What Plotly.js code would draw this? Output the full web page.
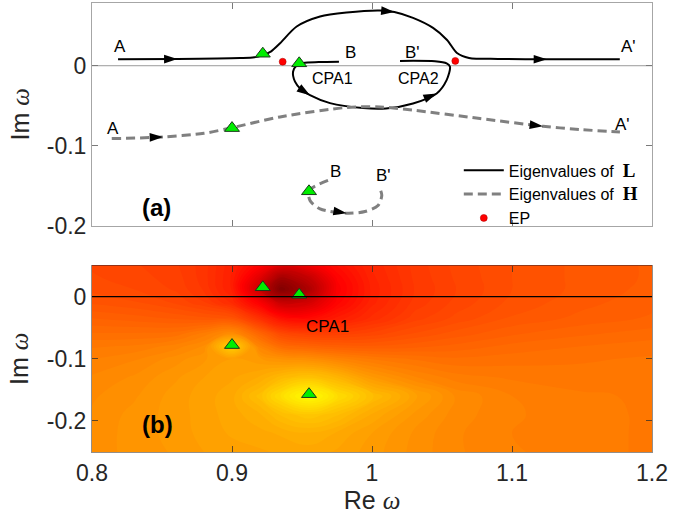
<!DOCTYPE html>
<html><head><meta charset="utf-8">
<script src="https://cdn.plot.ly/plotly-3.0.1.min.js"></script>
<style>html,body{margin:0;padding:0;background:#fff}#chart{width:697px;height:515px}</style>
</head><body><div id="chart"></div>
<script>
// ---------- data ----------
// Eigenvalues of L : branch A -> A'
const lX = [0.8186,0.861,0.9057,0.916,0.9221,0.928,0.9343,0.9462,0.9629,0.9819,1.0057,1.016,1.0293,1.0436,1.0536,1.0607,1.0693,1.09,1.125,1.177];
const lY = [0.0080,0.0083,0.0095,0.0105,0.0134,0.0180,0.028,0.049,0.0615,0.0665,0.0690,0.0672,0.0598,0.0473,0.0322,0.0159,0.0097,0.0085,0.0080,0.0080];
const lArrows = [1, 11, 18];
// Eigenvalues of L : branch B -> CPA1 -> CPA2 -> B'
const lLoopX = [0.9764,0.962,0.951,0.946,0.9436,0.945,0.949,0.9557,0.970,0.9936,1.010,1.0293,1.0462,1.0533,1.0557,1.0533,1.045,1.020];
const lLoopY = [0.0050,0.0045,0.0035,0.0000,-0.0075,-0.0200,-0.0290,-0.0368,-0.0468,-0.0530,-0.0535,-0.0472,-0.0347,-0.0180,-0.0013,0.0030,0.0055,0.0060];
const lLoopArrows = [7, 12];
// Eigenvalues of H : branch A -> A'
const hX = [0.8141,0.8507,0.880,0.900,0.9343,0.9819,1.0057,1.0293,1.0771,1.1221,1.1486,1.1771];
const hY = [-0.0911,-0.0891,-0.0845,-0.0775,-0.0640,-0.0522,-0.0515,-0.0556,-0.0660,-0.0757,-0.0798,-0.0828];
const hArrows = [1, 9];
// Eigenvalues of H : branch B -> B'
const hLoopX = [0.9686,0.955,0.9557,0.9629,0.9819,0.995,1.0043,1.007,1.0055];
const hLoopY = [-0.1434,-0.1560,-0.1684,-0.1789,-0.1844,-0.1823,-0.1748,-0.1620,-0.1530];
const hLoopArrows = [4];
// Exceptional points
const epX = [0.9362, 1.0595];
const epY = [0.005, 0.006];
// Green triangles (poles / zeros)
const triX = [0.922, 0.948, 0.9, 0.955];
const triY = [0.015, 0.003, -0.078, -0.157];
// Panel (b) colour field (level; <0 = dark red, 255 = yellow)
const fieldX = [0.8,0.83,0.86,0.88,0.9,0.92,0.935,0.955,0.975,1.0,1.03,1.06,1.1,1.15,1.2];
const fieldY = [0.05,0.03,0.012,-0.01,-0.035,-0.06,-0.08,-0.1,-0.13,-0.16,-0.19,-0.22,-0.25];
const fieldZ = [
 [70,66,60,50,30,0,-30,-15,12,36,55,67,77,85,90],
 [72,68,62,50,28,-30,-85,-55,0,33,54,66,77,85,90],
 [75,71,64,52,28,-50,-115,-75,-5,31,53,65,77,85,91],
 [82,78,70,60,40,-5,-50,-40,2,33,55,67,79,87,93],
 [95,92,88,85,82,45,15,8,25,43,62,73,84,91,96],
 [108,108,110,122,138,100,72,62,62,68,78,86,94,100,104],
 [118,120,128,138,205,128,105,97,92,90,93,97,103,107,110],
 [125,130,140,148,155,150,142,138,128,118,112,108,110,112,114],
 [132,138,148,155,160,168,182,192,178,150,132,122,118,116,116],
 [136,142,152,158,165,188,218,248,218,186,158,136,125,120,118],
 [138,145,152,158,164,172,186,196,186,166,148,134,126,121,118],
 [140,145,152,157,162,165,168,172,166,155,142,132,125,121,118],
 [140,145,150,155,158,160,162,164,160,152,141,132,126,121,118]
];
// Axis ticks
const xTicks = [0.8, 0.9, 1.0, 1.1, 1.2];
const xTickText = ['0.8', '0.9', '1', '1.1', '1.2'];
const yTicks = [-0.2, -0.1, 0];
const yTickText = ['-0.2', '-0.1', '0'];

// ---------- styling ----------
const FONT = 'Liberation Sans, Arial, Helvetica, sans-serif';
const SERIF = 'Liberation Serif, Times New Roman, serif';
const TICKCOL = '#262626';

function arrowTrace(X, Y, idx, xa, ya) {
  const ax = [], ay = [], op = [];
  idx.forEach(i => { ax.push(X[i-1], X[i]); ay.push(Y[i-1], Y[i]); op.push(0, 1); });
  return {x: ax, y: ay, xaxis: xa, yaxis: ya, mode: 'markers', showlegend: false, hoverinfo: 'skip',
    marker: {symbol: 'arrow', size: 14, color: '#000', opacity: op, angleref: 'previous', line: {width: 0}}};
}

const traces = [
  {x: lX, y: lY, mode: 'lines', line: {color: '#000', width: 2, shape: 'spline', smoothing: 0.8},
   name: 'Eigenvalues of\u00a0\u00a0<span style="font-family:' + SERIF + ';font-size:19px"><b>L</b></span>',
   legendgroup: 'L', showlegend: true},
  {x: lLoopX, y: lLoopY, mode: 'lines', line: {color: '#000', width: 2, shape: 'spline', smoothing: 0.8},
   legendgroup: 'L', showlegend: false},
  {x: hX, y: hY, mode: 'lines', line: {color: '#808080', width: 3, dash: '9px,5px', shape: 'spline', smoothing: 0.8},
   name: 'Eigenvalues of\u00a0\u00a0<span style="font-family:' + SERIF + ';font-size:19px"><b>H</b></span>',
   legendgroup: 'H', showlegend: true},
  {x: hLoopX, y: hLoopY, mode: 'lines', line: {color: '#808080', width: 3, dash: '9px,5px', shape: 'spline', smoothing: 0.8},
   legendgroup: 'H', showlegend: false},
  arrowTrace(lX, lY, lArrows, 'x', 'y'),
  arrowTrace(lLoopX, lLoopY, lLoopArrows, 'x', 'y'),
  arrowTrace(hX, hY, hArrows, 'x', 'y'),
  arrowTrace(hLoopX, hLoopY, hLoopArrows, 'x', 'y'),
  {x: triX, y: triY, mode: 'markers', showlegend: false,
   marker: {symbol: 'triangle-up', size: 13, color: '#00ee00', line: {color: '#1a3a1a', width: 1}}},
  {x: epX, y: epY, mode: 'markers', name: 'EP', showlegend: true,
   marker: {symbol: 'circle', size: 7, color: '#ff0000', line: {color: '#aa0000', width: 0.5}}},
  // panel (b)
  {type: 'contour', x: fieldX, y: fieldY, z: fieldZ, xaxis: 'x2', yaxis: 'y2', showscale: false,
   zmin: -115, zmax: 255, hoverinfo: 'skip',
   colorscale: [[0, 'rgb(130,0,0)'], [115/370, 'rgb(255,0,0)'], [1, 'rgb(255,255,0)']],
   contours: {coloring: 'fill', start: -115, end: 255, size: 6},
   line: {width: 0, smoothing: 1.3}},
  {x: triX, y: triY, xaxis: 'x2', yaxis: 'y2', mode: 'markers', showlegend: false,
   marker: {symbol: 'triangle-up', size: 13, color: '#00ee00', line: {color: '#1a3a1a', width: 1}}}
];

const axCommon = {ticks: 'inside', ticklen: 6, tickwidth: 1, showgrid: false, zeroline: false,
  showline: true, mirror: 'ticks', tickfont: {family: FONT, size: 23, color: TICKCOL}};

function label(text, x, y, xr, yr, size, bold) {
  return {text: bold ? '<b>' + text + '</b>' : text, x: x, y: y, xref: xr, yref: yr, showarrow: false,
    font: {family: FONT, size: size, color: '#000'}};
}

const layout = {
  width: 697, height: 515,
  margin: {l: 92, r: 45, t: 3, b: 63},
  paper_bgcolor: '#fff', plot_bgcolor: '#fff',
  font: {family: FONT, color: TICKCOL},
  showlegend: true,
  legend: {x: 0.655, y: 0.665, xanchor: 'left', yanchor: 'top', bgcolor: 'rgba(0,0,0,0)',
    font: {family: FONT, size: 16, color: '#000'}, tracegroupgap: 0, itemwidth: 40, traceorder: 'normal'},
  xaxis: Object.assign({}, axCommon, {domain: [0, 1], anchor: 'y', range: [0.8, 1.2], tickvals: xTicks,
    showticklabels: false, linecolor: '#a6a6a6', tickcolor: '#7a7a7a'}),
  yaxis: Object.assign({}, axCommon, {domain: [0.504, 1], anchor: 'x', range: [-0.2, 0.0784], tickvals: yTicks, ticktext: yTickText,
    linecolor: '#a6a6a6', tickcolor: '#7a7a7a',
    title: {text: 'Im <i style="font-family:' + SERIF + '">ω</i>', font: {family: FONT, size: 25, color: TICKCOL}, standoff: 10}}),
  xaxis2: Object.assign({}, axCommon, {domain: [0, 1], anchor: 'y2', range: [0.8, 1.2], tickvals: xTicks, ticktext: xTickText,
    linecolor: 'rgba(60,50,40,0.55)', tickcolor: 'rgba(60,50,40,0.8)', layer: 'above traces',
    title: {text: 'Re <i style="font-family:' + SERIF + '">ω</i>', font: {family: FONT, size: 25, color: TICKCOL}, standoff: 5}}),
  yaxis2: Object.assign({}, axCommon, {domain: [0, 0.4153], anchor: 'x2', range: [-0.25, 0.05], tickvals: yTicks, ticktext: yTickText,
    linecolor: 'rgba(60,50,40,0.55)', tickcolor: 'rgba(60,50,40,0.8)', layer: 'above traces',
    title: {text: 'Im <i style="font-family:' + SERIF + '">ω</i>', font: {family: FONT, size: 25, color: TICKCOL}, standoff: 10}}),
  shapes: [
    {type: 'line', xref: 'x domain', yref: 'y', x0: 0, x1: 1, y0: 0, y1: 0, line: {color: '#9a9a9a', width: 1}, layer: 'below'},
    {type: 'line', xref: 'x2 domain', yref: 'y2', x0: 0, x1: 1, y0: 0, y1: 0, line: {color: '#000', width: 1.2}, layer: 'above'}
  ],
  annotations: [
    label('A', 0.82, 0.0235, 'x', 'y', 17),
    label('B', 0.9843, 0.017, 'x', 'y', 17),
    label("B'", 1.0286, 0.017, 'x', 'y', 17),
    label("A'", 1.183, 0.0235, 'x', 'y', 17),
    label('CPA1', 0.972, -0.0154, 'x', 'y', 16),
    label('CPA2', 1.033, -0.0154, 'x', 'y', 16),
    label('A', 0.815, -0.078, 'x', 'y', 17),
    label("A'", 1.179, -0.073, 'x', 'y', 17),
    label('B', 0.9736, -0.132, 'x', 'y', 17),
    label("B'", 1.008, -0.137, 'x', 'y', 17),
    label('(a)', 0.846, -0.177, 'x', 'y', 24, true),
    label('CPA1', 0.968, -0.048, 'x2', 'y2', 17),
    label('(b)', 0.847, -0.205, 'x2', 'y2', 24, true)
  ]
};

Plotly.newPlot('chart', traces, layout, {displayModeBar: false, staticPlot: true});
</script></body></html>
